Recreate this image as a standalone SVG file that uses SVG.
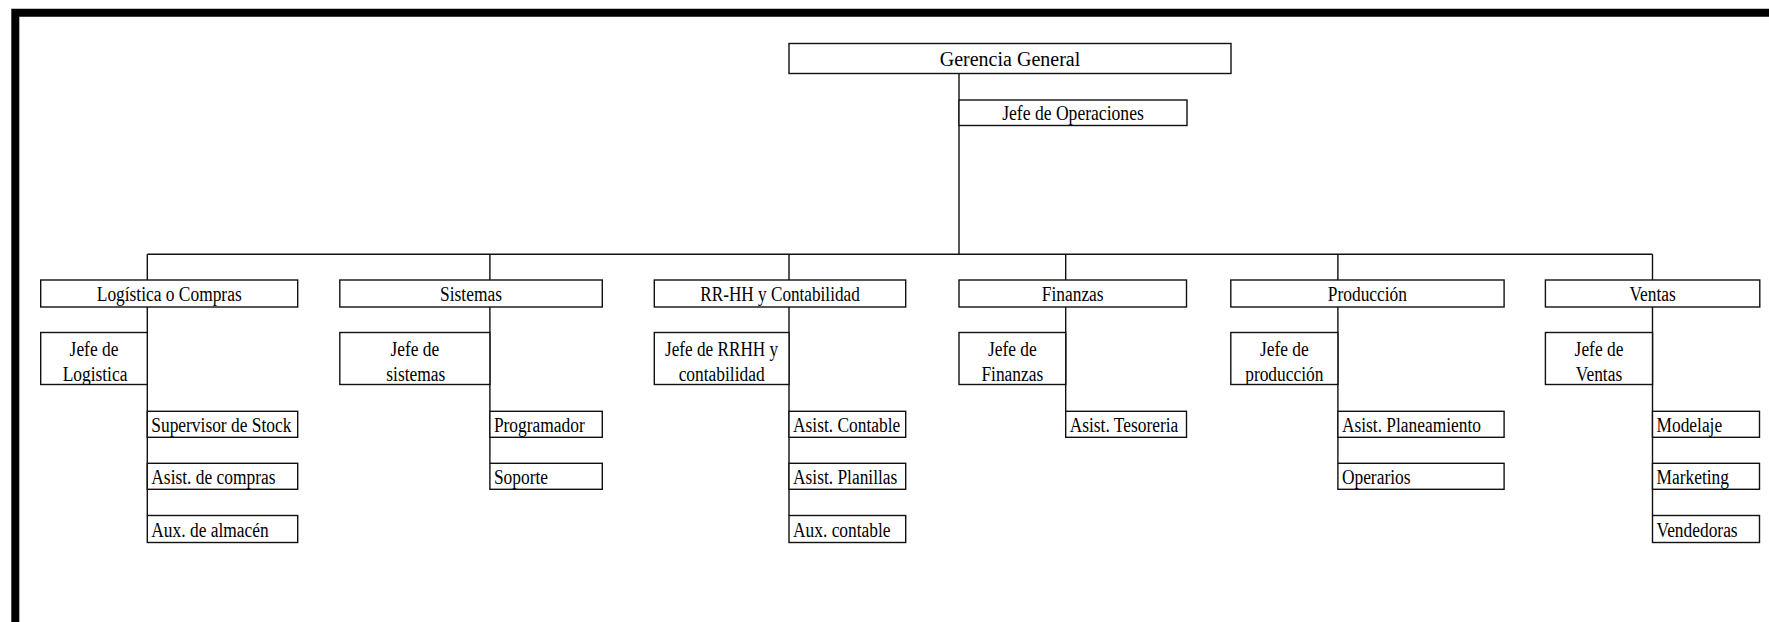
<svg xmlns="http://www.w3.org/2000/svg" width="1769" height="622" viewBox="0 0 1769 622">
<style>
  .bx{fill:#fff;stroke:#111;stroke-width:1.4}
  .ln{fill:none;stroke:#111;stroke-width:1.4}
  .t{font-family:"Liberation Serif","Times New Roman",serif;font-size:20px;fill:#000}
  .c{text-anchor:middle}
</style>
<defs>
  <clipPath id="cj1"><rect x="40.7" y="332.5" width="106.6" height="52"/></clipPath>
  <clipPath id="cj2"><rect x="339.8" y="332.5" width="150.1" height="52"/></clipPath>
  <clipPath id="cj3"><rect x="654.3" y="332.5" width="134.7" height="52"/></clipPath>
  <clipPath id="cj4"><rect x="959" y="332.5" width="106.7" height="52"/></clipPath>
  <clipPath id="cj5"><rect x="1230.8" y="332.5" width="107.1" height="52"/></clipPath>
  <clipPath id="cj6"><rect x="1545.4" y="332.5" width="107.1" height="52"/></clipPath>
</defs>
<rect width="1769" height="622" fill="#fff"/>
<path d="M15.3 622 V12.8 H1769" fill="none" stroke="#000" stroke-width="8"/>

<g id="connectors">
  <path class="ln" d="M959 73.5 V254.3 M147.3 254.3 H1652.5 M147.3 254.3 V280 M489.9 254.3 V280 M789 254.3 V280 M1065.7 254.3 V280 M1337.9 254.3 V280 M1652.5 254.3 V280"/>
  <path class="ln" d="M147.3 307 V515.5 M489.9 307 V463.3 M789 307 V515.5 M1065.7 307 V411.3 M1337.9 307 V463.3 M1652.5 307 V515.5"/>
</g>

<g id="gerencia"><rect class="bx" x="789" y="43.5" width="442" height="30"/><text class="t c" x="1010" y="66">Gerencia General</text></g>
<g id="jefe-operaciones"><rect class="bx" x="959" y="100" width="228" height="25.5"/><text class="t c" transform="translate(1073,119.5) scale(0.88,1)">Jefe de Operaciones</text></g>

<g id="logistica"><rect class="bx" x="40.7" y="280" width="257" height="27"/><text class="t c" transform="translate(169.2,301) scale(0.87,1)">Logística o Compras</text></g>
<g id="sistemas"><rect class="bx" x="339.8" y="280" width="262.5" height="27"/><text class="t c" transform="translate(471,301) scale(0.87,1)">Sistemas</text></g>
<g id="rrhh"><rect class="bx" x="654.3" y="280" width="251.4" height="27"/><text class="t c" transform="translate(780,301) scale(0.86,1)">RR-HH y Contabilidad</text></g>
<g id="finanzas"><rect class="bx" x="959" y="280" width="227.5" height="27"/><text class="t c" transform="translate(1072.7,301) scale(0.87,1)">Finanzas</text></g>
<g id="produccion"><rect class="bx" x="1230.8" y="280" width="273.3" height="27"/><text class="t c" transform="translate(1367.4,301) scale(0.87,1)">Producción</text></g>
<g id="ventas"><rect class="bx" x="1545.4" y="280" width="214.4" height="27"/><text class="t c" transform="translate(1652.6,301) scale(0.87,1)">Ventas</text></g>

<g id="jefe-logistica"><rect class="bx" x="40.7" y="332.5" width="106.6" height="52"/><g clip-path="url(#cj1)"><text class="t c" transform="translate(94,356) scale(0.87,1)">Jefe de</text><text class="t c" transform="translate(95,381) scale(0.87,1)">Logistica</text></g></g>
<g id="jefe-sistemas"><rect class="bx" x="339.8" y="332.5" width="150.1" height="52"/><g clip-path="url(#cj2)"><text class="t c" transform="translate(414.8,356) scale(0.87,1)">Jefe de</text><text class="t c" transform="translate(415.8,381) scale(0.87,1)">sistemas</text></g></g>
<g id="jefe-rrhh"><rect class="bx" x="654.3" y="332.5" width="134.7" height="52"/><g clip-path="url(#cj3)"><text class="t c" transform="translate(721.6,356) scale(0.86,1)">Jefe de RRHH y</text><text class="t c" transform="translate(721.6,381) scale(0.87,1)">contabilidad</text></g></g>
<g id="jefe-finanzas"><rect class="bx" x="959" y="332.5" width="106.7" height="52"/><g clip-path="url(#cj4)"><text class="t c" transform="translate(1012.3,356) scale(0.87,1)">Jefe de</text><text class="t c" transform="translate(1012.3,381) scale(0.87,1)">Finanzas</text></g></g>
<g id="jefe-produccion"><rect class="bx" x="1230.8" y="332.5" width="107.1" height="52"/><g clip-path="url(#cj5)"><text class="t c" transform="translate(1284.3,356) scale(0.87,1)">Jefe de</text><text class="t c" transform="translate(1284.3,381) scale(0.87,1)">producción</text></g></g>
<g id="jefe-ventas"><rect class="bx" x="1545.4" y="332.5" width="107.1" height="52"/><g clip-path="url(#cj6)"><text class="t c" transform="translate(1599,356) scale(0.87,1)">Jefe de</text><text class="t c" transform="translate(1599,381) scale(0.87,1)">Ventas</text></g></g>

<g id="supervisor-stock"><rect class="bx" x="147.3" y="411.3" width="150.4" height="26"/><text class="t" transform="translate(151.3,432.3) scale(0.87,1)">Supervisor de Stock</text></g>
<g id="asist-compras"><rect class="bx" x="147.3" y="463.3" width="150.4" height="26"/><text class="t" transform="translate(151.3,484.3) scale(0.87,1)">Asist. de compras</text></g>
<g id="aux-almacen"><rect class="bx" x="147.3" y="515.5" width="150.4" height="27"/><text class="t" transform="translate(151.3,537) scale(0.87,1)">Aux. de almacén</text></g>

<g id="programador"><rect class="bx" x="489.9" y="411.3" width="112.4" height="26"/><text class="t" transform="translate(493.9,432.3) scale(0.87,1)">Programador</text></g>
<g id="soporte"><rect class="bx" x="489.9" y="463.3" width="112.4" height="26"/><text class="t" transform="translate(493.9,484.3) scale(0.87,1)">Soporte</text></g>

<g id="asist-contable"><rect class="bx" x="789" y="411.3" width="116.7" height="26"/><text class="t" transform="translate(793,432.3) scale(0.87,1)">Asist. Contable</text></g>
<g id="asist-planillas"><rect class="bx" x="789" y="463.3" width="116.7" height="26"/><text class="t" transform="translate(793,484.3) scale(0.87,1)">Asist. Planillas</text></g>
<g id="aux-contable"><rect class="bx" x="789" y="515.5" width="116.7" height="27"/><text class="t" transform="translate(793,537) scale(0.87,1)">Aux. contable</text></g>

<g id="asist-tesoreria"><rect class="bx" x="1065.7" y="411.3" width="120.8" height="26"/><text class="t" transform="translate(1069.7,432.3) scale(0.87,1)">Asist. Tesoreria</text></g>

<g id="asist-planeamiento"><rect class="bx" x="1337.9" y="411.3" width="166.2" height="26"/><text class="t" transform="translate(1341.9,432.3) scale(0.87,1)">Asist. Planeamiento</text></g>
<g id="operarios"><rect class="bx" x="1337.9" y="463.3" width="166.2" height="26"/><text class="t" transform="translate(1341.9,484.3) scale(0.87,1)">Operarios</text></g>

<g id="modelaje"><rect class="bx" x="1652.5" y="411.3" width="107" height="26"/><text class="t" transform="translate(1656.5,432.3) scale(0.87,1)">Modelaje</text></g>
<g id="marketing"><rect class="bx" x="1652.5" y="463.3" width="107" height="26"/><text class="t" transform="translate(1656.5,484.3) scale(0.87,1)">Marketing</text></g>
<g id="vendedoras"><rect class="bx" x="1652.5" y="515.5" width="107" height="27"/><text class="t" transform="translate(1656.5,537) scale(0.87,1)">Vendedoras</text></g>
</svg>
